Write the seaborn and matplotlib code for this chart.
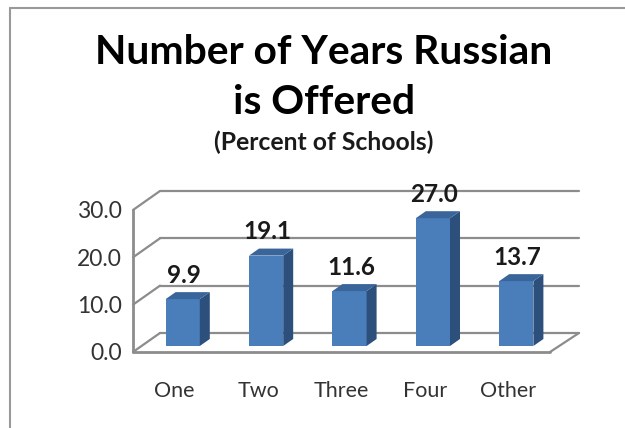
import matplotlib
matplotlib.use("Agg")
import matplotlib.pyplot as plt
from matplotlib.lines import Line2D
from matplotlib.patches import Polygon
from matplotlib.transforms import ScaledTranslation
import pandas as pd
import seaborn as sns

# Data
years = ["One", "Two", "Three", "Four", "Other"]
percent = [9.9, 19.1, 11.6, 27.0, 13.7]
y_ticks = [0, 10, 20, 30]

W, H = 625, 428
GRID = "#8c8c8c"

sns.set_style("white")
plt.rcParams["font.family"] = ["Lato", "DejaVu Sans"]

df = pd.DataFrame({"years": years, "percent": percent})

fig = plt.figure(figsize=(W / 100, H / 100), dpi=100)
# front plane of the fake 3D box
ax = fig.add_axes([133 / W, 1 - 352 / H, (550 - 133) / W, (352 - 210) / H])
ax.patch.set_alpha(0)


def px_shift(dx, dy):
    return ax.transData + ScaledTranslation(dx / 100, dy / 100, fig.dpi_scale_trans)


sns.barplot(data=df, x="years", y="percent", color="#4a7ebb", saturation=1,
            width=0.41, ax=ax, zorder=3)
ax.set_xlim(-0.5, 4.5)
ax.set_ylim(0, 30)
ax.set_xlabel("")
ax.set_ylabel("")
sns.despine(ax=ax, left=True, bottom=True, top=True, right=True)

# walls and gridlines
back = px_shift(27, 19)
for t in y_ticks:
    ax.plot([-0.5, 4.5 + 2 / 83.4], [t, t], color=GRID, lw=1.6, transform=back,
            clip_on=False, zorder=1)
    ax.plot([-0.5, -0.5 + 27 / 83.4], [t, t + 19 / 4.73], color=GRID, lw=1.6,
            clip_on=False, zorder=1)
ax.plot([-0.5, -0.5], [0, 30], color=GRID, lw=2, clip_on=False, zorder=2)
ax.plot([-0.5, 4.5], [0, 0], color=GRID, lw=2, clip_on=False, zorder=2)
ax.plot([4.5, 4.5 + 29 / 83.4], [0, 19 / 4.73], color=GRID, lw=1.6, clip_on=False, zorder=2)

# bars sit a little behind the front plane, with side and top faces
bar_tr = px_shift(8, 6)
dx = 10 / 83.4
dy = 7 / 4.73
for bar, val in zip(ax.patches, percent):
    bar.set_transform(bar_tr)
    bar.set_edgecolor("none")
    x0 = bar.get_x()
    x1 = x0 + bar.get_width()
    side = Polygon([(x1, 0), (x1 + dx, dy), (x1 + dx, val + dy), (x1, val)],
                   closed=True, fc="#2c4f7c", ec="none", transform=bar_tr, zorder=3,
                   clip_on=False)
    top = Polygon([(x0, val), (x0 + dx, val + dy), (x1 + dx, val + dy), (x1, val)],
                  closed=True, fc="#3a659b", ec="none", transform=bar_tr, zorder=3,
                  clip_on=False)
    ax.add_patch(side)
    ax.add_patch(top)
    ax.annotate(f"{val:.1f}", xy=((x0 + x1) / 2, val), xycoords=bar_tr,
                xytext=(1, 17), textcoords="offset points", ha="center", va="center",
                fontsize=17.5, fontweight="bold", color="#1a1a1a", zorder=5,
                annotation_clip=False)

ax.set_yticks(y_ticks)
ax.set_yticklabels([f"{t:.1f}" for t in y_ticks], fontsize=16.5, color="#333333")
ax.set_xticks(range(len(years)))
ax.set_xticklabels(years, fontsize=15.5, color="#333333")
ax.tick_params(axis="y", length=0, pad=8)
ax.tick_params(axis="x", length=0, pad=21)

# titles
fig.text(324 / W, 1 - 52 / H, "Number of Years Russian", ha="center", va="center",
         fontsize=29.3, fontweight="bold", color="black")
fig.text(324 / W, 1 - 102 / H, "is Offered", ha="center", va="center",
         fontsize=29.3, fontweight="bold", color="black")
fig.text(324 / W, 1 - 142 / H, "(Percent of Schools)", ha="center", va="center",
         fontsize=17.8, fontweight="bold", color="#1a1a1a")

# frame of the pasted slide
fig.add_artist(Line2D([10 / W, 10 / W], [0, 1 - 8 / H], color="#999999", lw=1.5))
fig.add_artist(Line2D([10 / W, 1], [1 - 8 / H, 1 - 8 / H], color="#999999", lw=1.5))

fig.savefig("out.png", dpi=100)
